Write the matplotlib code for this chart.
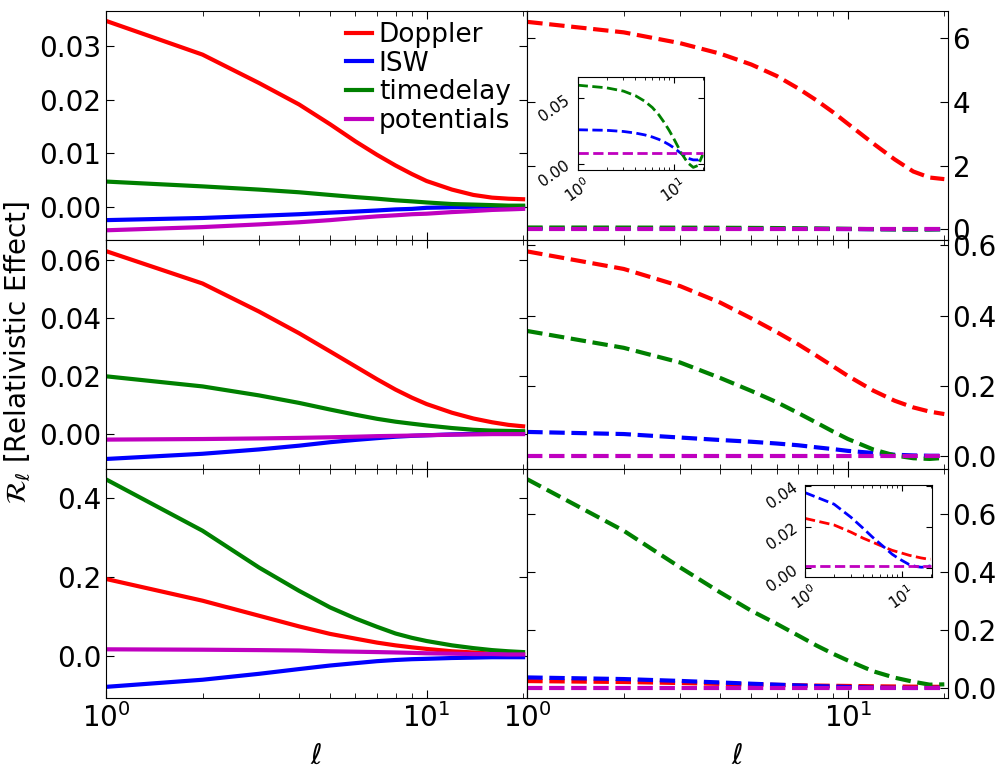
import numpy as np
import matplotlib
matplotlib.use("Agg")
import matplotlib.pyplot as plt
from matplotlib.ticker import MultipleLocator

# multipoles
ell = [1, 2, 3, 4, 5, 6, 7, 8, 9, 10, 12, 14, 16, 18, 20]

# left column (solid)
tl_doppler = [.0347, .0284, .0231, .0191, .0154, .0122, .0097, .0077, .0061, .0048, .0032, .0022, .0017, .0015, .0014]
tl_isw = [-.0025, -.0021, -.0017, -.0014, -.0011, -.0009, -.0007, -.0005, -.0004, -.0002, -.0001, 0, 0, 0, 0]
tl_timedelay = [.0047, .0038, .0032, .0027, .0022, .0018, .0015, .0012, .0010, .0008, .0005, .0004, .0003, .0002, .0002]
tl_potentials = [-.0044, -.0038, -.0033, -.0029, -.0025, -.0021, -.0018, -.0016, -.0014, -.0013, -.0010, -.0008, -.0006, -.0005, -.0004]

ml_doppler = [.0631, .0519, .0422, .0347, .0284, .0232, .0188, .0152, .0124, .0102, .0072, .0052, .0039, .0030, .0025]
ml_isw = [-.0088, -.0070, -.0055, -.0042, -.0030, -.0022, -.0016, -.0011, -.0008, -.0006, -.0003, -.0001, 0, .0001, .0002]
ml_timedelay = [.0198, .0163, .0132, .0106, .0083, .0065, .0051, .0041, .0034, .0028, .0019, .0013, .0010, .0009, .0008]
ml_potentials = [-.0021, -.0019, -.0017, -.0015, -.0013, -.0011, -.0009, -.0008, -.0007, -.0006, -.0004, -.0003, -.0002, -.0002, -.0002]

bl_doppler = [.196, .141, .103, .076, .057, .045, .035, .028, .023, .019, .013, .010, .007, .006, .005]
bl_isw = [-.077, -.059, -.044, -.032, -.023, -.017, -.012, -.009, -.007, -.006, -.004, -.003, -.002, -.002, -.002]
bl_timedelay = [.448, .318, .225, .166, .124, .096, .075, .058, .047, .039, .028, .021, .016, .013, .011]
bl_potentials = [.018, .017, .016, .015, .013, .012, .011, .010, .009, .008, .007, .006, .006, .005, .005]

# right column (dashed)
tr_doppler = [6.52, 6.19, 5.85, 5.52, 5.18, 4.82, 4.43, 4.05, 3.68, 3.32, 2.70, 2.20, 1.82, 1.63, 1.58]
tr_isw = [.0261, .0257, .0248, .0236, .0222, .0206, .0188, .0168, .0147, .0125, .0080, .0045, .0032, .0032, .0060]
tr_timedelay = [.0600, .0580, .0555, .0520, .0478, .0430, .0375, .0315, .0255, .0195, .0085, .0010, -.0025, -.0010, .0070]
tr_potentials = [.0083] * 15

mr_doppler = [.583, .533, .484, .437, .392, .353, .318, .285, .255, .228, .186, .157, .138, .126, .119]
mr_isw = [.068, .062, .052, .045, .040, .035, .030, .024, .019, .014, .008, .003, .001, .000, .000]
mr_timedelay = [.356, .308, .266, .222, .185, .153, .122, .094, .069, .048, .018, .001, -.007, -.009, -.006]
mr_potentials = [0.0] * 15

br_doppler = [.0243, .0211, .0176, .0147, .0128, .0112, .0099, .0088, .0081, .0075, .0064, .0057, .0051, .0047, .0045]
br_isw = [.0368, .0312, .0248, .0195, .0152, .0120, .0093, .0069, .0053, .0040, .0019, .0010, .0006, .0008, .0013]
br_timedelay = [.718, .541, .415, .329, .266, .221, .181, .146, .118, .095, .058, .036, .022, .012, .013]
br_potentials = [.0013] * 15

labels = ["Doppler", "ISW", "timedelay", "potentials"]
colors = ["r", "b", "g", "m"]

fig = plt.figure(figsize=(10.06, 7.76), dpi=100)

x_left, x_right, w = 0.1054, 0.5241, 0.4180
row_y = [0.6908, 0.3955, 0.1001]
h = 0.2954

panels = [
    (x_left, row_y[0], [tl_doppler, tl_isw, tl_timedelay, tl_potentials], "-", (-0.0062, 0.0366), 0.01),
    (x_right, row_y[0], [tr_doppler, tr_isw, tr_timedelay, tr_potentials], "--", (-0.33, 6.87), 2),
    (x_left, row_y[1], [ml_doppler, ml_isw, ml_timedelay, ml_potentials], "-", (-0.0123, 0.067), 0.02),
    (x_right, row_y[1], [mr_doppler, mr_isw, mr_timedelay, mr_potentials], "--", (-0.038, 0.616), 0.2),
    (x_left, row_y[2], [bl_doppler, bl_isw, bl_timedelay, bl_potentials], "-", (-0.106, 0.474), 0.2),
    (x_right, row_y[2], [br_doppler, br_isw, br_timedelay, br_potentials], "--", (-0.035, 0.753), 0.2),
]

axes = []
for i, (x0, y0, series, ls, ylim, step) in enumerate(panels):
    ax = fig.add_axes([x0, y0, w, h])
    for vals, c, lab in zip(series, colors, labels):
        ax.plot(ell, vals, color=c, ls=ls, lw=3, label=lab)
    ax.set_xscale("log")
    ax.set_xlim(1, 20.5)
    ax.set_ylim(*ylim)
    ax.yaxis.set_major_locator(MultipleLocator(step))
    right = x0 == x_right
    bottom = i >= 4
    ax.tick_params(which="both", direction="in", top=True, right=True, labelsize=20,
                   labelbottom=bottom, labelleft=not right, labelright=right)
    ax.tick_params(which="major", length=6)
    ax.tick_params(which="minor", length=3.5)
    if bottom:
        ax.set_xlabel(r"$\ell$", fontsize=20, labelpad=6)
    axes.append(ax)

# legend in the top-left panel
axes[0].legend(loc="upper right", bbox_to_anchor=(1.0, 1.02), frameon=False, fontsize=19,
               handlelength=1.0, handletextpad=0.25, labelspacing=0.1, borderaxespad=0.2)

fig.text(0.018, 0.546, r"$\mathcal{R}_\ell$ [Relativistic Effect]", rotation=90,
         va="center", ha="center", fontsize=20)

# insets
def add_inset(rect, series, cols, ylim, step):
    ins = fig.add_axes(rect)
    for vals, c in zip(series, cols):
        ins.plot(ell, vals, color=c, ls="--", lw=2)
    ins.set_xscale("log")
    ins.set_xlim(1, 20.5)
    ins.set_ylim(*ylim)
    ins.yaxis.set_major_locator(MultipleLocator(step))
    ins.tick_params(which="both", direction="in", top=True, right=True, labelsize=11)
    ins.tick_params(which="major", length=4)
    ins.tick_params(which="minor", length=2)
    for t in ins.get_xticklabels() + ins.get_yticklabels():
        t.set_rotation(35)
    return ins

add_inset([0.5742, 0.7809, 0.1252, 0.1195], [tr_isw, tr_timedelay, tr_potentials],
          ["b", "g", "m"], (-0.0045, 0.066), 0.05)
add_inset([0.8002, 0.2568, 0.1259, 0.1182], [br_doppler, br_isw, br_potentials],
          ["r", "b", "m"], (-0.004, 0.0405), 0.02)

fig.savefig("out.png", dpi=100)
